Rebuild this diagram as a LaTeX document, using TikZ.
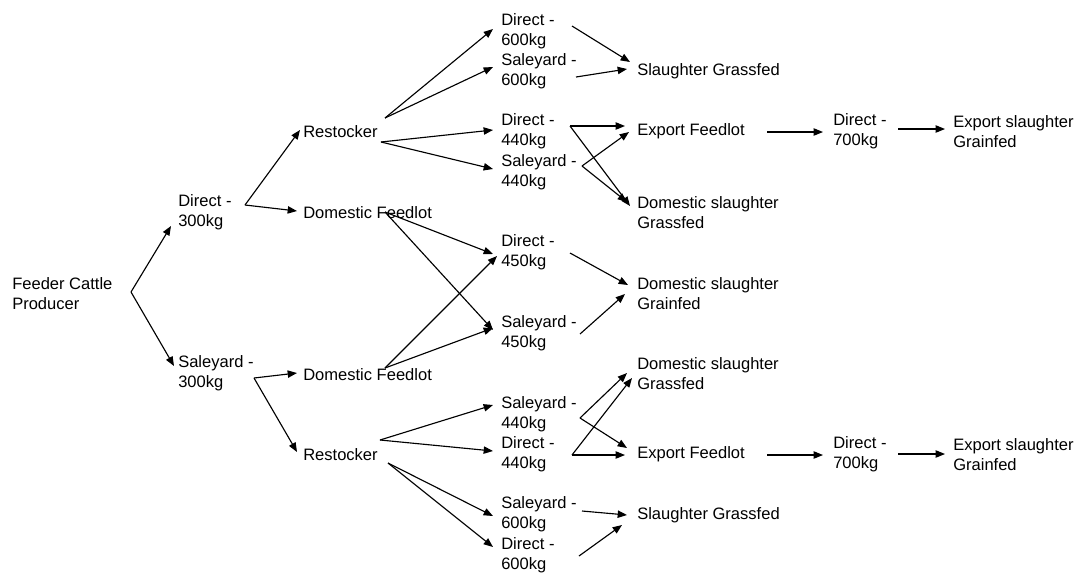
\documentclass[tikz,border=0pt]{standalone}
\usepackage{fontspec}
\setmainfont{Liberation Sans}
\usetikzlibrary{arrows.meta}
\begin{document}
\begin{tikzpicture}[x=0.75pt,y=-0.75pt,
  lbl/.style={anchor=west,inner sep=0pt,align=left,font=\fontsize{12.4pt}{15pt}\selectfont},
  arr/.style={line width=0.85pt,-{Triangle[length=7pt,width=5.5pt]}}]
\useasboundingbox (0,0) rectangle (1081,572);
\node[lbl] (fcp) at (12,293.5) {Feeder Cattle\\Producer};
\node[lbl] (d300) at (178,212.5) {Direct -\\300kg};
\node[lbl] (s300) at (178,373.5) {Saleyard -\\300kg};
\node[lbl] (rt) at (303,131.5) {Restocker};
\node[lbl] (dft) at (303,212.5) {Domestic Feedlot};
\node[lbl] (dfb) at (303,374.5) {Domestic Feedlot};
\node[lbl] (rb) at (303,454.5) {Restocker};
\node[lbl] (d600t) at (501,31.5) {Direct -\\600kg};
\node[lbl] (s600t) at (501,71.5) {Saleyard -\\600kg};
\node[lbl] (d440t) at (501,131.5) {Direct -\\440kg};
\node[lbl] (s440t) at (501,172.5) {Saleyard -\\440kg};
\node[lbl] (d450) at (501,252.5) {Direct -\\450kg};
\node[lbl] (s450) at (501,333.5) {Saleyard -\\450kg};
\node[lbl] (s440b) at (501,414.5) {Saleyard -\\440kg};
\node[lbl] (d440b) at (501,454.5) {Direct -\\440kg};
\node[lbl] (s600b) at (501,514.5) {Saleyard -\\600kg};
\node[lbl] (d600b) at (501,555.5) {Direct -\\600kg};
\node[lbl] (sgt) at (637,71.5) {Slaughter Grassfed};
\node[lbl] (eft) at (637,131.5) {Export Feedlot};
\node[lbl] (dsgt) at (637,212.5) {Domestic slaughter\\Grassfed};
\node[lbl] (dsgr) at (637,293.5) {Domestic slaughter\\Grainfed};
\node[lbl] (dsgb) at (637,373.5) {Domestic slaughter\\Grassfed};
\node[lbl] (efb) at (637,454.5) {Export Feedlot};
\node[lbl] (sgb) at (637,515.5) {Slaughter Grassfed};
\node[lbl] (d700t) at (833,131.5) {Direct -\\700kg};
\node[lbl] (est) at (953,131.5) {Export slaughter\\Grainfed};
\node[lbl] (d700b) at (833,454.5) {Direct -\\700kg};
\node[lbl] (esb) at (953,454.5) {Export slaughter\\Grainfed};
% connectors
\draw[arr] ([shift={(119,-1.5)}]fcp.west) -- ([shift={(-7,13.5)}]d300.west);
\draw[arr] ([shift={(119,-1.5)}]fcp.west) -- ([shift={(-4,-7.5)}]s300.west);
\draw[arr] ([shift={(67,-7.5)}]d300.west) -- ([shift={(-3,-1.5)}]rt.west);
\draw[arr] ([shift={(67,-7.5)}]d300.west) -- ([shift={(-6,-1.5)}]dft.west);
\draw[arr] ([shift={(76,4.5)}]s300.west) -- ([shift={(-6,-1.5)}]dfb.west);
\draw[arr] ([shift={(76,4.5)}]s300.west) -- ([shift={(-6,-2.5)}]rb.west);
\draw[arr] ([shift={(82,-13.5)}]rt.west) -- ([shift={(-8,-2.5)}]d600t.west);
\draw[arr] ([shift={(82,-13.5)}]rt.west) -- ([shift={(-8,-4.5)}]s600t.west);
\draw[arr] ([shift={(78,10.5)}]rt.west) -- ([shift={(-8,-1.5)}]d440t.west);
\draw[arr] ([shift={(78,10.5)}]rt.west) -- ([shift={(-8,-3.5)}]s440t.west);
\draw[arr] ([shift={(82,-0.5)}]dft.west) -- ([shift={(-8,1.5)}]d450.west);
\draw[arr] ([shift={(82,-0.5)}]dft.west) -- ([shift={(-8,-3.5)}]s450.west);
\draw[arr] ([shift={(82,-6.5)}]dfb.west) -- ([shift={(-4,3.5)}]d450.west);
\draw[arr] ([shift={(82,-6.5)}]dfb.west) -- ([shift={(-8,-5.5)}]s450.west);
\draw[arr] ([shift={(77,-14.5)}]rb.west) -- ([shift={(-8,-9.5)}]s440b.west);
\draw[arr] ([shift={(77,-14.5)}]rb.west) -- ([shift={(-8,-3.5)}]d440b.west);
\draw[arr] ([shift={(85,8.5)}]rb.west) -- ([shift={(-8,1.5)}]s600b.west);
\draw[arr] ([shift={(85,8.5)}]rb.west) -- ([shift={(-8,-8.5)}]d600b.west);
\draw[arr] ([shift={(71,-5.5)}]d600t.west) -- ([shift={(-7,-9.5)}]sgt.west);
\draw[arr] ([shift={(75,5.5)}]s600t.west) -- ([shift={(-10,-2.5)}]sgt.west);
\draw[arr] ([shift={(69,-5.5)}]d440t.west) -- ([shift={(-12,-5.5)}]eft.west);
\draw[arr] ([shift={(69,-5.5)}]d440t.west) -- ([shift={(-7,-6.5)}]dsgt.west);
\draw[arr] ([shift={(81,-6.5)}]s440t.west) -- ([shift={(-8,0.5)}]eft.west);
\draw[arr] ([shift={(81,-6.5)}]s440t.west) -- ([shift={(-10,-10.5)}]dsgt.west);
\draw[arr] ([shift={(69,0.5)}]d450.west) -- ([shift={(-9,-8.5)}]dsgr.west);
\draw[arr] ([shift={(79,0.5)}]s450.west) -- ([shift={(-12,0.5)}]dsgr.west);
\draw[arr] ([shift={(79,3.5)}]s440b.west) -- ([shift={(-10,-0.5)}]dsgb.west);
\draw[arr] ([shift={(79,3.5)}]s440b.west) -- ([shift={(-10,-6.5)}]efb.west);
\draw[arr] ([shift={(71,0.5)}]d440b.west) -- ([shift={(-5,4.5)}]dsgb.west);
\draw[arr] ([shift={(71,0.5)}]d440b.west) -- ([shift={(-12,0.5)}]efb.west);
\draw[arr] ([shift={(81,-3.5)}]s600b.west) -- ([shift={(-10,-0.5)}]sgb.west);
\draw[arr] ([shift={(78,0.5)}]d600b.west) -- ([shift={(-15,9.5)}]sgb.west);
\draw[arr] ([shift={(130,0.5)}]eft.west) -- ([shift={(-10,0.5)}]d700t.west);
\draw[arr] ([shift={(65,-2.5)}]d700t.west) -- ([shift={(-8,-2.5)}]est.west);
\draw[arr] ([shift={(130,0.5)}]efb.west) -- ([shift={(-10,0.5)}]d700b.west);
\draw[arr] ([shift={(65,-0.5)}]d700b.west) -- ([shift={(-8,-0.5)}]esb.west);
\end{tikzpicture}
\end{document}
